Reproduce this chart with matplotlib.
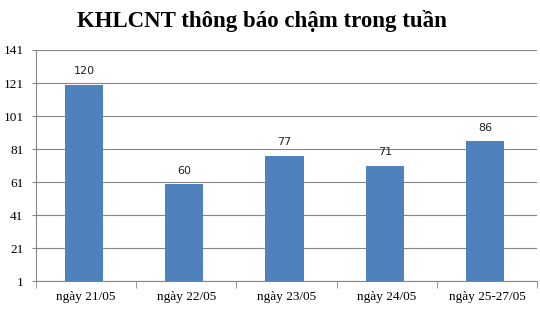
import matplotlib
matplotlib.use("Agg")
import matplotlib.pyplot as plt
import numpy as np

categories = ["ngày 21/05", "ngày 22/05", "ngày 23/05", "ngày 24/05", "ngày 25-27/05"]
values = [120, 60, 77, 71, 86]
yticks = [1, 21, 41, 61, 81, 101, 121, 141]

title = "KHLCNT thông báo chậm trong tuần"
bar_color = "#4F81BD"
grid_color = "#868686"

fig = plt.figure(figsize=(5.4, 3.09), dpi=100)
ax = fig.add_axes([36 / 540, 1 - 281.3 / 309, 501 / 540, 231.3 / 309])

x = np.arange(len(categories))
bars = ax.bar(x - 0.02, values, width=0.38, color=bar_color, zorder=3)
for b, v in zip(bars, values):
    ax.text(b.get_x() + b.get_width() / 2, v + 5, str(v), ha="center", va="bottom",
            fontsize=8, family="DejaVu Sans", color="#222222")

ax.set_xlim(-0.5, len(categories) - 0.5)
ax.set_ylim(1, 141)
ax.set_yticks(yticks)
ax.set_yticklabels([str(t) for t in yticks], family="Liberation Serif", fontsize=9.5)
ax.yaxis.grid(True, color=grid_color, linewidth=0.8, zorder=0)

ax.set_xticks(x)
ax.set_xticklabels(categories, family="Liberation Serif", fontsize=9.5)
ax.tick_params(axis="x", length=0, pad=7)
ax.set_xticks(np.arange(-0.5, len(categories)), minor=True)
ax.tick_params(axis="x", which="minor", length=5, color=grid_color)
ax.tick_params(axis="y", length=3, color=grid_color, pad=6)

for s in ["top", "right"]:
    ax.spines[s].set_visible(False)
for s in ["left", "bottom"]:
    ax.spines[s].set_color(grid_color)
    ax.spines[s].set_linewidth(0.8)

fig.text(262 / 540, 1 - 21 / 309, title, ha="center", va="center",
         family="Liberation Serif", fontweight="bold", fontsize=16.5)

fig.savefig("out.png", dpi=100)
